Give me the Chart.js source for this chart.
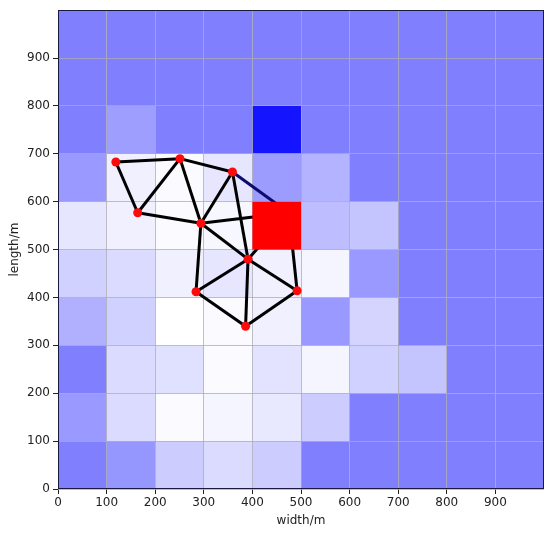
<!DOCTYPE html>
<html>
<head>
<meta charset="utf-8">
<script src="https://cdn.jsdelivr.net/npm/chart.js@4"></script>
<style>
  html, body { margin: 0; padding: 0; background: #fff; }
  #wrap { width: 550px; height: 534px; }
</style>
</head>
<body>
<div id="wrap"><canvas id="canvas" width="550" height="534"></canvas></div>
<script>
// cell size in metres
var cellSize = 100;

// cell values on a bwr scale (0 = blue, 0.5 = white, 1 = red), rows from y=0 upward
var cellRows = [
    [0.25, 0.295, 0.40, 0.43, 0.40, 0.25, 0.25, 0.25, 0.25, 0.25],
    [0.30, 0.43, 0.49, 0.48, 0.455, 0.40, 0.25, 0.25, 0.25, 0.25],
    [0.25, 0.43, 0.44, 0.49, 0.445, 0.48, 0.41, 0.385, 0.25, 0.25],
    [0.345, 0.41, 0.50, 0.49, 0.47, 0.30, 0.415, 0.25, 0.25, 0.25],
    [0.41, 0.43, 0.47, 0.45, 0.47, 0.48, 0.30, 0.25, 0.25, 0.25],
    [0.45, 0.47, 0.49, 0.485, 1.0, 0.37, 0.385, 0.25, 0.25, 0.25],
    [0.30, 0.47, 0.49, 0.45, 0.305, 0.35, 0.25, 0.25, 0.25, 0.25],
    [0.25, 0.31, 0.25, 0.25, 0.04, 0.25, 0.25, 0.25, 0.25, 0.25],
    [0.25, 0.25, 0.25, 0.25, 0.25, 0.25, 0.25, 0.25, 0.25, 0.25],
    [0.25, 0.25, 0.25, 0.25, 0.25, 0.25, 0.25, 0.25, 0.25, 0.25]
];

// network nodes (the last one sits under the red cell)
var nodeX = [119, 251, 359, 164, 294, 391, 284, 492, 386, 475];
var nodeY = [683, 690, 662, 577, 555, 480, 412, 414, 340, 577];
var hiddenNode = 9;

// edges as pairs of node indices
var edges = [
    [0, 1], [0, 3], [3, 1], [1, 4], [1, 2], [2, 4], [2, 5], [3, 4],
    [4, 5], [4, 6], [5, 6], [5, 7], [5, 8], [6, 8], [7, 8],
    [4, 9], [5, 9], [7, 9], [2, 9]
];
var edgeColors = edges.map(function (e) { return e[0] == 2 && e[1] == 9 ? '#0c0c70' : '#000000'; });

var xTicks = [0, 100, 200, 300, 400, 500, 600, 700, 800, 900];
var yTicks = [0, 100, 200, 300, 400, 500, 600, 700, 800, 900];

function bwr(v) {
    if (v <= 0.5) {
        var c = Math.round(v * 2 * 255);
        return 'rgb(' + c + ',' + c + ',255)';
    }
    var d = Math.round((1 - v) * 2 * 255);
    return 'rgb(255,' + d + ',' + d + ')';
}

function drawCells(chart, top) {
    var ctx = chart.ctx, xs = chart.scales.x, ys = chart.scales.y;
    for (var r = 0; r < cellRows.length; r++) {
        for (var c = 0; c < cellRows[r].length; c++) {
            var v = cellRows[r][c];
            if ((v > 0.5) != top) continue;
            var x0 = xs.getPixelForValue(c * cellSize), x1 = xs.getPixelForValue((c + 1) * cellSize);
            var y0 = ys.getPixelForValue((r + 1) * cellSize), y1 = ys.getPixelForValue(r * cellSize);
            ctx.fillStyle = bwr(v);
            ctx.fillRect(x0, y0, x1 - x0, y1 - y0);
        }
    }
}

var cellPlugin = {
    id: 'cells',
    beforeDraw: function (chart) {
        var ctx = chart.ctx;
        ctx.save();
        ctx.fillStyle = '#fff';
        ctx.fillRect(0, 0, chart.width, chart.height);
        drawCells(chart, false);
        ctx.restore();
    },
    // nodes are dataset 0, drawn last; put the red cell over the edges just before them
    beforeDatasetDraw: function (chart, args) {
        if (args.index != 0) return;
        chart.ctx.save();
        drawCells(chart, true);
        chart.ctx.restore();
    },
    afterDraw: function (chart) {
        var a = chart.chartArea, ctx = chart.ctx;
        ctx.save();
        ctx.strokeStyle = '#1a1a40';
        ctx.lineWidth = 1;
        ctx.strokeRect(Math.round(a.left) + 0.5, Math.round(a.top) + 0.5, Math.round(a.right - a.left) - 1, Math.round(a.bottom - a.top) - 1);
        ctx.restore();
    }
};

var datasets = [{
    type: 'scatter',
    data: nodeX.map(function (x, i) { return { x: x, y: nodeY[i] }; }).filter(function (p, i) { return i != hiddenNode; }),
    backgroundColor: '#ff0a0a',
    borderWidth: 0,
    pointRadius: 4.5
}];
edges.forEach(function (e, i) {
    datasets.push({
        type: 'line',
        data: [{ x: nodeX[e[0]], y: nodeY[e[0]] }, { x: nodeX[e[1]], y: nodeY[e[1]] }],
        borderColor: edgeColors[i],
        borderWidth: 3,
        pointRadius: 0,
        fill: false
    });
});

var font = { family: 'DejaVu Sans', size: 12 };

function gridColor(ctx) {
    return ctx.tick && ctx.tick.value == 1000 ? 'rgba(0,0,0,0)' : 'rgba(170,170,180,0.75)';
}
function tickColor(ctx) {
    return ctx.tick && ctx.tick.value == 1000 ? 'rgba(0,0,0,0)' : '#222';
}

new Chart('canvas', {
    type: 'scatter',
    data: { datasets: datasets },
    plugins: [cellPlugin],
    options: {
        responsive: false,
        animation: false,
        layout: { padding: { top: 8, right: 6, left: 0, bottom: 0 } },
        plugins: { legend: { display: false }, tooltip: { enabled: false } },
        scales: {
            x: {
                type: 'linear', min: 0, max: 1000,
                afterFit: function (s) { s.height = 45; },
                afterBuildTicks: function (s) { s.ticks = xTicks.concat([1000]).map(function (v) { return { value: v }; }); },
                ticks: {
                    font: font, color: '#222', padding: 2, maxRotation: 0, autoSkip: false,
                    callback: function (v) { return xTicks.indexOf(v) >= 0 ? String(v) : ''; }
                },
                grid: { color: gridColor, tickColor: tickColor, tickLength: 5, lineWidth: 1 },
                border: { display: false },
                title: { display: true, text: 'width/m', font: font, color: '#222', padding: { top: 2, bottom: 6 } }
            },
            y: {
                type: 'linear', min: 0, max: 1000,
                afterFit: function (s) { s.width = 58; },
                afterBuildTicks: function (s) { s.ticks = yTicks.concat([1000]).map(function (v) { return { value: v }; }); },
                ticks: {
                    font: font, color: '#222', padding: 3, autoSkip: false,
                    callback: function (v) { return yTicks.indexOf(v) >= 0 ? String(v) : ''; }
                },
                grid: { color: gridColor, tickColor: tickColor, tickLength: 5, lineWidth: 1 },
                border: { display: false },
                title: { display: true, text: 'length/m', font: font, color: '#222', padding: { top: 8, bottom: 2 } }
            }
        }
    }
});
</script>
</body>
</html>
